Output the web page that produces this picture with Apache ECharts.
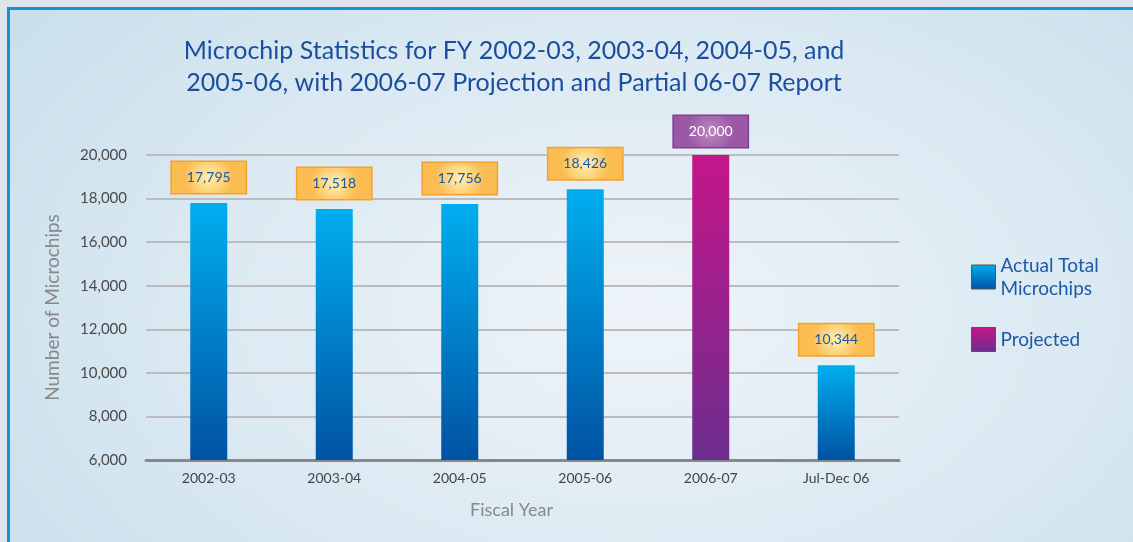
<!DOCTYPE html>
<html>
<head>
<meta charset="utf-8">
<title>Microchip Statistics</title>
<script src="https://cdn.jsdelivr.net/npm/echarts@6/dist/echarts.min.js"></script>
<style>
  html, body { margin: 0; padding: 0; width: 1133px; height: 542px; overflow: hidden; background: #dfe5ec; }
  #frame {
    position: absolute; left: 7px; top: 7px; width: 1140px; height: 550px;
    border-left: 3px solid #1690d0; border-top: 3px solid #1690d0;
    background: radial-gradient(ellipse 70% 90% at 55% 55%, #eef4f9 0%, #dbe9f2 55%, #c8dfeb 100%);
  }
  #chart { position: absolute; left: 0; top: 0; width: 1133px; height: 542px; }
</style>
</head>
<body>
<div id="frame"></div>
<div id="chart"></div>
<script>
// data
const categories = ['2002-03', '2003-04', '2004-05', '2005-06', '2006-07', 'Jul-Dec 06']
const actualValues = [17795, 17518, 17756, 18426, null, 10344]
const projectedValues = [null, null, null, null, 20000, null]
const yMin = 6000
const yMax = 20000
const yStep = 2000

const font = 'Lato, "Open Sans", sans-serif'
const fmt = v => v.toLocaleString('en-US')

const blueBar = new echarts.graphic.LinearGradient(0, 0, 0, 1, [
  { offset: 0, color: '#00aeef' },
  { offset: 1, color: '#0052a3' },
])
const purpleBar = new echarts.graphic.LinearGradient(0, 0, 0, 1, [
  { offset: 0, color: '#c5168b' },
  { offset: 1, color: '#6b2d8d' },
])

const myChart = echarts.init(document.getElementById('chart'))

const option = {
  backgroundColor: 'transparent',
  title: {
    text: 'Microchip Statistics for FY 2002-03, 2003-04, 2004-05, and\n2005-06, with 2006-07 Projection and Partial 06-07 Report',
    left: 509,
    top: 30,
    textAlign: 'center',
    textStyle: {
      fontFamily: font,
      fontSize: 25,
      fontWeight: 'normal',
      color: '#1b4f9e',
      lineHeight: 32,
    },
  },
  legend: {
    orient: 'vertical',
    left: 966,
    top: 249,
    itemWidth: 24,
    itemHeight: 24,
    itemGap: 27,
    icon: 'rect',
    itemStyle: { borderColor: '#555', borderWidth: 1 },
    textStyle: { fontFamily: font, fontSize: 19, color: '#1a5aa8', lineHeight: 23 },
    data: ['Actual Total\nMicrochips', 'Projected'],
  },
  grid: { left: 146, right: 234, top: 155, bottom: 82 },
  xAxis: {
    type: 'category',
    data: categories,
    name: 'Fiscal Year',
    nameLocation: 'middle',
    nameGap: 41,
    nameTextStyle: { fontFamily: font, fontSize: 18, color: '#888', padding: [0, 22, 0, 0] },
    axisLine: { lineStyle: { color: '#888', width: 3 } },
    axisTick: { show: false },
    axisLabel: { fontFamily: font, fontSize: 14, color: '#444', margin: 11 },
  },
  yAxis: {
    type: 'value',
    min: yMin,
    max: yMax,
    interval: yStep,
    name: 'Number of Microchips',
    nameLocation: 'middle',
    nameGap: 84,
    nameTextStyle: { fontFamily: font, fontSize: 19, color: '#888' },
    axisLine: { show: false },
    axisTick: { show: false },
    axisLabel: { fontFamily: font, fontSize: 15, color: '#4a4a4a', margin: 19, formatter: v => fmt(v) },
    splitLine: { lineStyle: { color: '#bcbcbc', width: 2 } },
  },
  series: [
    {
      name: 'Actual Total\nMicrochips',
      type: 'bar',
      data: actualValues,
      barWidth: 37,
      barGap: '-100%',
      itemStyle: { color: blueBar },
      label: {
        show: true,
        position: 'top',
        distance: 10,
        formatter: p => fmt(p.value),
        fontFamily: font,
        fontSize: 14,
        color: '#1a5aa8',
        lineHeight: 15,
        padding: [8, 15],
        backgroundColor: new echarts.graphic.RadialGradient(0.5, 0.5, 0.7, [
          { offset: 0, color: '#fff1b4' },
          { offset: 1, color: '#fbbd52' },
        ]),
        borderColor: '#f4a030',
        borderWidth: 1.5,
      },
    },
    {
      name: 'Projected',
      type: 'bar',
      data: projectedValues,
      barWidth: 37,
      barGap: '-100%',
      itemStyle: { color: purpleBar },
      label: {
        show: true,
        position: 'top',
        distance: 8,
        formatter: p => fmt(p.value),
        fontFamily: font,
        fontSize: 14,
        color: '#ffffff',
        lineHeight: 15,
        padding: [8, 15],
        backgroundColor: new echarts.graphic.RadialGradient(0.5, 0.5, 0.7, [
          { offset: 0, color: '#bb88bf' },
          { offset: 1, color: '#9c58a5' },
        ]),
        borderColor: '#7a3f9c',
        borderWidth: 1.5,
      },
    },
  ],
}

myChart.setOption(option)
</script>
</body>
</html>
